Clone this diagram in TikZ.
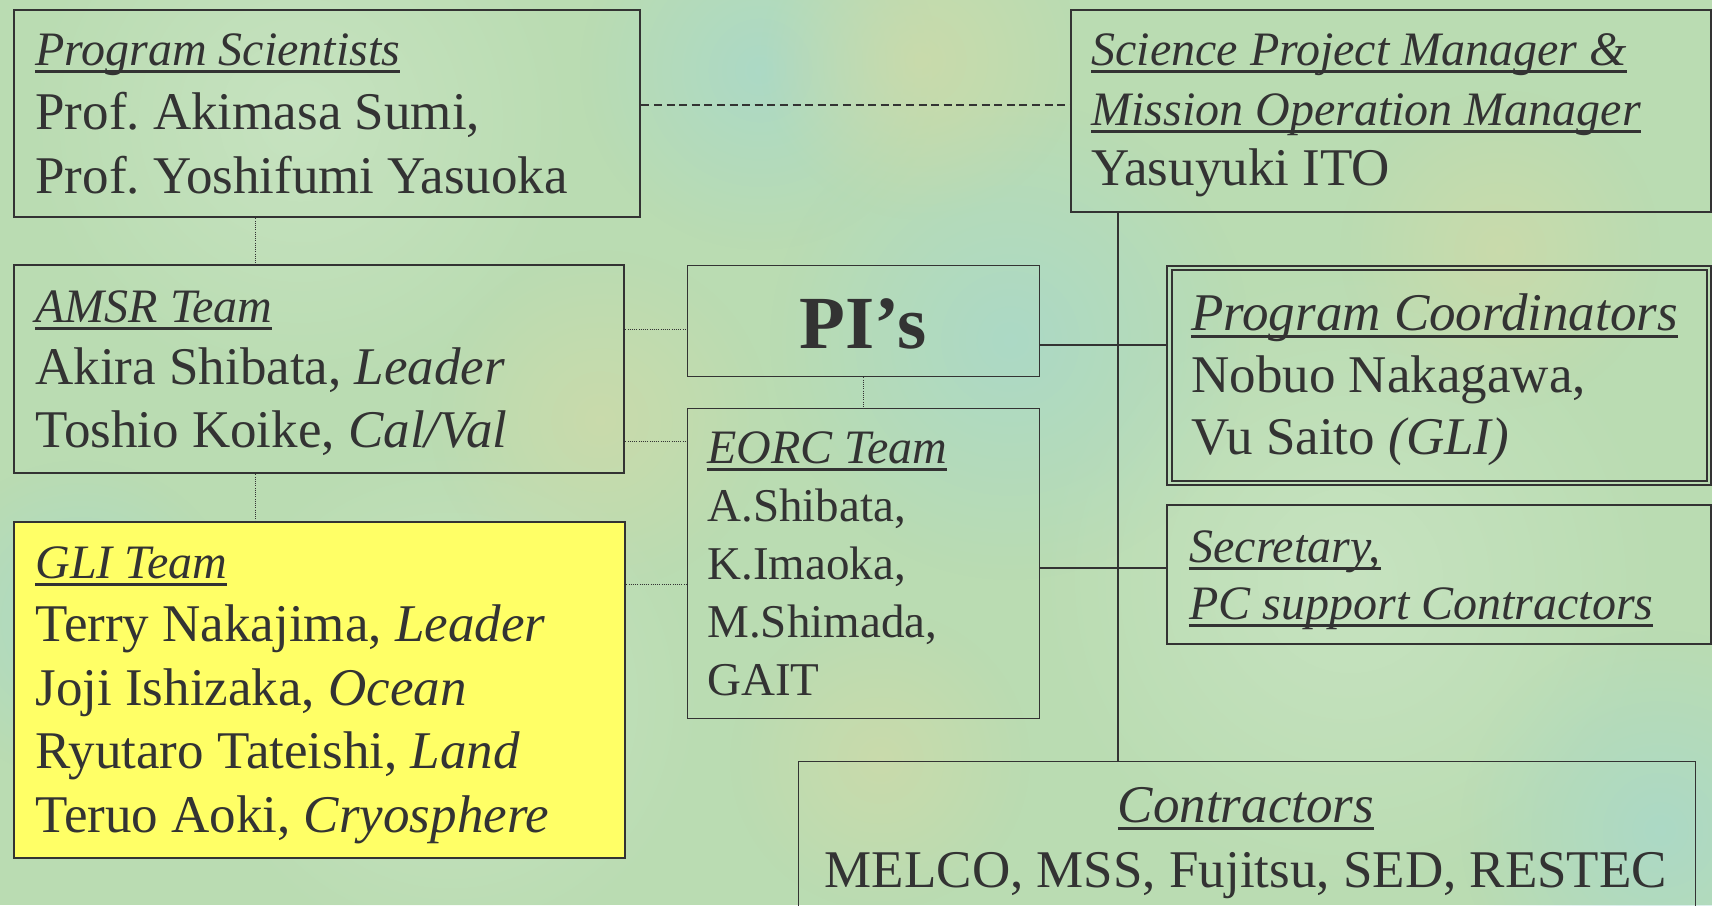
\documentclass[tikz,border=0pt]{standalone}
\usepackage{fontspec}
\setmainfont{Liberation Serif}
\usetikzlibrary{calc,fadings}
\definecolor{bgc}{RGB}{186,220,178}
\definecolor{ink}{RGB}{51,51,51}
\definecolor{glibg}{RGB}{255,255,102}
\definecolor{bluish}{RGB}{166,216,206}
\definecolor{tanish}{RGB}{208,218,168}
\definecolor{lightish}{RGB}{204,230,198}
\tikzfading[name=softspot, inner color=transparent!0, outer color=transparent!100]
\newcommand\hdul[1]{\leavevmode\setbox0=\hbox{#1}\rlap{\rule[-3.75pt]{\wd0}{1.5pt}}\box0}
\newcommand\fs[2]{\fontsize{#1}{#2}\selectfont}
\tikzset{
  box/.style={draw=ink, line width=1.15pt, inner sep=0pt, anchor=north west},
  thinbox/.style={box, line width=0.65pt},
  txt/.style={inner sep=0pt, anchor=base west, text=ink, font=\frenchspacing},
  solidln/.style={draw=ink, line width=0.85pt},
  dashln/.style={draw=ink, line width=0.9pt, dash pattern=on 4pt off 2.3pt},
  dotln/.style={draw=ink, line width=0.5pt, dash pattern=on 0.5pt off 0.6pt},
  spot/.style={path fading=softspot, fill opacity=0.7},
}
\begin{document}
\begin{tikzpicture}[x=0.5pt,y=-0.5pt]
\useasboundingbox (0,0) rectangle (1712,905);
\clip (0,0) rectangle (1712,905);
% background
\fill[bgc] (0,0) rectangle (1712,905);
\fill[lightish, spot] (300,120) circle (280);
\fill[lightish, spot] (1350,580) circle (320);
\fill[lightish, spot] (450,700) circle (260);
\fill[bluish, spot] (1010,340) circle (240);
\fill[bluish, spot] (760,70) circle (180);
\fill[bluish, spot] (1660,830) circle (200);
\fill[bluish, spot] (80,620) circle (160);
\fill[tanish, spot] (920,60) circle (160);
\fill[tanish, spot] (600,420) circle (170);
\fill[tanish, spot] (1500,250) circle (160);
\fill[tanish, spot] (880,760) circle (150);

% boxes
\node[box, minimum width=313pt, minimum height=103.5pt] (ps) at (13,9) {};
\node[box, minimum width=320pt, minimum height=101pt] (spm) at (1070,9) {};
\node[box, minimum width=305pt, minimum height=104pt] (amsr) at (13,264) {};
\node[thinbox, minimum width=176pt, minimum height=55.5pt] (pis) at (687,265) {};
\node[thinbox, minimum width=176pt, minimum height=155pt] (eorc) at (687,408) {};
\node[box, fill=glibg, minimum width=305.5pt, minimum height=168pt] (gli) at (13,521) {};
\node[box, minimum width=272pt, minimum height=109.5pt] (pc) at (1166,265) {};
\draw[ink, line width=1.15pt] ($(pc.north west)+(6,5)$) rectangle ($(pc.south east)+(-5,-5)$);
\node[box, minimum width=272pt, minimum height=69.5pt] (sec) at (1166,504) {};
\node[thinbox, minimum width=448.5pt, minimum height=100pt] (con) at (798,761) {};

% connectors
\draw[dashln] ($(ps.north east)+(0,96)$) coordinate (d1) -- (d1 -| spm.west);
\draw[dotln] ($(ps.south west)+(242,0)$) -- ($(amsr.north west)+(242,0)$);
\draw[dotln] ($(amsr.south west)+(242,0)$) -- ($(gli.north west)+(242,0)$);
\draw[dotln] ($(amsr.north east)+(0,65)$) coordinate (a1) -- (a1 -| pis.west);
\draw[dotln] ($(amsr.north east)+(0,177)$) coordinate (a2) -- (a2 -| eorc.west);
\draw[dotln] ($(gli.north east)+(0,63)$) coordinate (g1) -- (g1 -| eorc.west);
\draw[dotln] (pis.south) -- (eorc.north);
\draw[solidln] ($(spm.south west)+(48,0)$) coordinate (v1) -- (v1 |- con.north);
\draw[solidln] ($(pis.north east)+(0,80)$) coordinate (p1) -- (p1 -| pc.west);
\draw[solidln] ($(eorc.north east)+(0,160)$) coordinate (e1) -- (e1 -| sec.west);

% texts
\node[txt] (pst) at (35,65) {\parbox[t]{300pt}{\fs{26.5pt}{32pt}{\fs{24pt}{32pt}\hdul{\itshape Program Scientists}}\\
Prof. Akimasa Sumi,\\
Prof. Yoshifumi Yasuoka}};
\node[txt] (spmt) at (1091,65) {\parbox[t]{310pt}{\fs{26.5pt}{30pt}{\fs{24pt}{30pt}\hdul{\itshape Science Project Manager \&}\\
\hdul{\itshape Mission Operation Manager}}\\
Yasuyuki ITO}};
\node[txt] (amsrt) at (35,322) {\parbox[t]{300pt}{\fs{26.5pt}{31.25pt}{\fs{24pt}{31.25pt}\hdul{\itshape AMSR Team}}\\
Akira Shibata, \textit{Leader}\\
Toshio Koike, \textit{Cal/Val}}};
\node[txt, anchor=base] (pist) at (863,348) {\fs{37.5pt}{40pt}\bfseries PI’s};
\node[txt] (eorct) at (707,463) {\parbox[t]{170pt}{\fs{23.5pt}{29pt}{\fs{24pt}{29pt}\hdul{\itshape EORC Team}}\\
A.Shibata,\\
K.Imaoka,\\
M.Shimada,\\
GAIT}};
\node[txt] (pct) at (1191,330) {\parbox[t]{265pt}{\fs{26.5pt}{31pt}\hdul{\itshape Program Coordinators}\\
Nobuo Nakagawa,\\
Vu Saito \textit{(GLI)}}};
\node[txt] (sect) at (1189,562) {\parbox[t]{265pt}{\fs{24pt}{28.5pt}\hdul{\itshape Secretary,}\\
\hdul{\itshape PC support Contractors}}};
\node[txt] (glit) at (35,578) {\parbox[t]{300pt}{\fs{26.5pt}{31.75pt}{\fs{24pt}{31.75pt}\hdul{\itshape GLI Team}}\\
Terry Nakajima, \textit{Leader}\\
Joji Ishizaka, \textit{Ocean}\\
Ryutaro Tateishi, \textit{Land}\\
Teruo Aoki, \textit{Cryosphere}}};
\node[txt, anchor=base] (cont) at (1246,822) {\parbox[t]{440pt}{\centering\fs{26.5pt}{32.5pt}\hdul{\itshape Contractors}\\
MELCO, MSS, Fujitsu, SED, RESTEC}};
\end{tikzpicture}
\end{document}
